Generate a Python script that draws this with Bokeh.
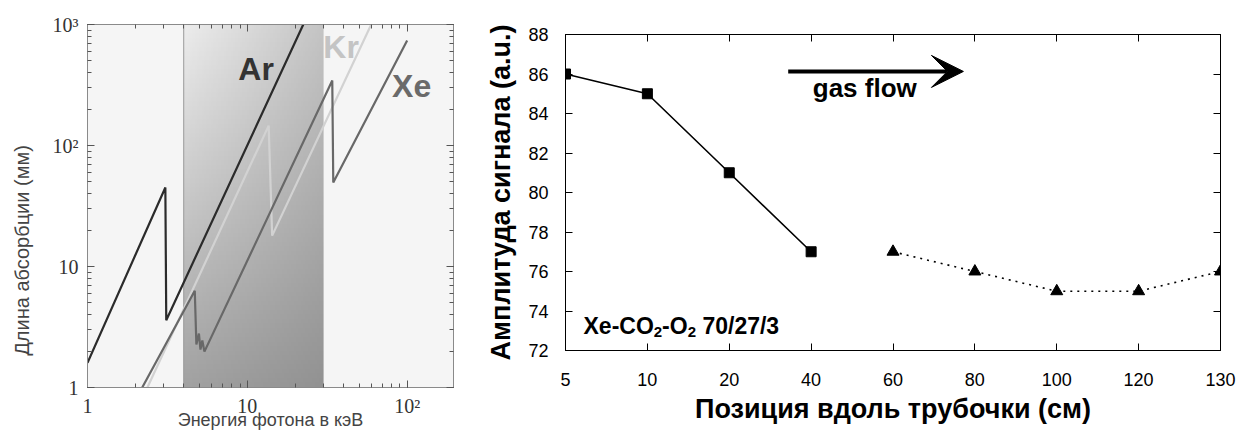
import numpy as np
from bokeh.plotting import figure
from bokeh.models import (Range1d, FixedTicker, LogAxis, LinearAxis, Label, Arrow,
                          VeeHead, LogTicker)
from bokeh.layouts import row, column
from bokeh.embed import file_html
from bokeh.resources import INLINE

# ---------------- data: left panel (absorption length vs photon energy) ----------
ar_energy = [1.0, 3.07, 3.11, 22.4]
ar_length = [1.6, 45.0, 3.6, 1000.0]
kr_energy = [2.37, 13.6, 14.3, 59.6]
kr_length = [1.0, 146.0, 18.0, 1000.0]
xe_energy = [2.2, 4.69, 4.80, 4.98, 5.09, 5.23, 5.39, 34.0, 34.5, 100.0]
xe_length = [1.0, 6.3, 2.27, 2.79, 2.06, 2.45, 1.98, 344.0, 49.5, 738.0]
band_energy = [4.0, 30.0]

# ---------------- data: right panel (signal amplitude vs position) ---------------
positions = ["5", "10", "20", "40", "60", "80", "100", "120", "130"]
square_idx = [0, 1, 2, 3]
square_amp = [86, 85, 81, 77]
tri_idx = [4, 5, 6, 7, 8]
tri_amp = [77, 76, 75, 75, 76]
y_ticks = [72, 74, 76, 78, 80, 82, 84, 86, 88]

SANS = "Liberation Sans"
SERIF = "Liberation Serif"
NBSP = "\u00a0"

# ================= left figure =================
p1 = figure(width=460, height=432, x_axis_type="log", y_axis_type="log",
            x_range=Range1d(1, 195), y_range=Range1d(1, 1000),
            output_backend="svg", toolbar_location=None,
            min_border_left=87, min_border_right=7, min_border_top=24, min_border_bottom=45)
p1.grid.visible = False
p1.background_fill_color = "#f5f5f5"
p1.border_fill_color = "white"
p1.outline_line_color = "#8a8a8a"

# gradient band
nx, ny = 60, 80
gx = np.linspace(0, 1, nx)[None, :]
gy = np.linspace(0, 1, ny)[:, None]  # 0 bottom, 1 top
tl, tr, bl, br = 236, 196, 162, 146
val = (bl * (1 - gx) * (1 - gy) + br * gx * (1 - gy) + tl * (1 - gx) * gy + tr * gx * gy)
val = val.astype(np.uint32)
img = (255 << 24) | (val << 16) | (val << 8) | val
p1.image_rgba(image=[img.astype(np.uint32)], x=band_energy[0], y=1, dw=band_energy[1] - band_energy[0], dh=999)
p1.line([band_energy[0], band_energy[0]], [1, 1000], line_color="#999999", line_width=1)

p1.line(ar_energy, ar_length, line_color="#2b2b2b", line_width=2.2)
p1.line(kr_energy, kr_length, line_color="#d2d2d2", line_width=2.2)
p1.line(xe_energy, xe_length, line_color="#686868", line_width=2.2)

labels_font = dict(text_font=SANS, text_font_style="bold", text_font_size="32px",
                   text_baseline="alphabetic", y_offset=12)
p1.add_layout(Label(x=8.78, y=344, text="Ar", text_color="#333333", **labels_font))
p1.add_layout(Label(x=29.9, y=523, text="Kr", text_color="#c4c4c4", **labels_font))
p1.add_layout(Label(x=80.5, y=249, text="Xe", text_color="#6a6a6a", **labels_font))

def style_log_axis(ax, show_labels):
    ax.ticker = LogTicker(num_minor_ticks=10)
    ax.major_tick_in = 7
    ax.major_tick_out = 0
    ax.minor_tick_in = 4
    ax.minor_tick_out = 0
    ax.axis_line_color = "#8a8a8a"
    ax.major_tick_line_color = "#555555"
    ax.minor_tick_line_color = "#555555"
    if show_labels:
        ax.major_label_text_font = SERIF
        ax.major_label_text_font_size = "20px"
        ax.major_label_text_color = "#333333"
        ax.major_label_standoff = 9
        ax.major_label_overrides = {1: "1", 10: "10", 100: "10²", 1000: "10³"}
        ax.axis_label_text_font = SANS
        ax.axis_label_text_font_style = "normal"
        ax.axis_label_text_color = "#444444"
    else:
        ax.major_label_text_font_size = "1px"
        ax.major_label_text_alpha = 0
        ax.major_label_standoff = 0

style_log_axis(p1.xaxis[0], True)
p1.xaxis[0].major_label_standoff = 7
p1.xaxis[0].axis_label = "Энергия фотона в кэВ"
p1.xaxis[0].axis_label_text_font_size = "18px"
p1.xaxis[0].axis_label_standoff = -10
style_log_axis(p1.yaxis[0], True)
p1.yaxis[0].axis_label = "Длина абсорбции (мм)" + NBSP * 16
p1.yaxis[0].axis_label_text_font_size = "20px"
p1.yaxis[0].axis_label_standoff = 17
top1 = LogAxis()
right1 = LogAxis()
style_log_axis(top1, False)
style_log_axis(right1, False)
p1.add_layout(top1, "above")
p1.add_layout(right1, "right")

# ================= right figure =================
p2 = figure(width=781, height=432, x_range=Range1d(0, len(positions) - 1), y_range=Range1d(72, 88),
            output_backend="svg", toolbar_location=None,
            min_border_left=105, min_border_right=21, min_border_top=34, min_border_bottom=82)
p2.grid.visible = False
p2.outline_line_color = "black"

p2.line(square_idx, square_amp, line_color="black", line_width=1.6)
p2.scatter(square_idx, square_amp, marker="square", size=10, fill_color="black", line_color="black")
p2.line(tri_idx, tri_amp, line_color="black", line_width=1.6, line_dash="2 5")
p2.scatter(tri_idx, tri_amp, marker="triangle", size=12, fill_color="black", line_color="black")

def style_lin_axis(ax, ticks, show_labels, overrides=None):
    ax.ticker = FixedTicker(ticks=ticks)
    ax.major_tick_in = 7
    ax.major_tick_out = 0
    ax.minor_tick_in = 0
    ax.minor_tick_out = 0
    ax.axis_line_color = "black"
    ax.major_tick_line_color = "black"
    if show_labels:
        ax.major_label_text_font = SANS
        ax.major_label_text_font_size = "18px"
        ax.major_label_text_color = "black"
        ax.axis_label_text_font = SANS
        ax.axis_label_text_font_style = "bold"
        ax.axis_label_text_font_size = "27px"
        ax.axis_label_text_color = "black"
        if overrides:
            ax.major_label_overrides = overrides
    else:
        ax.major_label_text_font_size = "1px"
        ax.major_label_text_alpha = 0
        ax.major_label_standoff = 0

x_ticks = list(range(len(positions)))
style_lin_axis(p2.xaxis[0], x_ticks, True, {i: s for i, s in enumerate(positions)})
p2.xaxis[0].major_label_standoff = 22
p2.xaxis[0].axis_label = "Позиция вдоль трубочки (см)"
p2.xaxis[0].axis_label_standoff = 5
style_lin_axis(p2.yaxis[0], y_ticks, True)
p2.yaxis[0].major_label_standoff = 17
p2.yaxis[0].axis_label = "Амплитуда сигнала (a.u.)"
p2.yaxis[0].axis_label_standoff = 9
top2 = LinearAxis()
right2 = LinearAxis()
style_lin_axis(top2, x_ticks, False)
style_lin_axis(right2, y_ticks, False)
p2.add_layout(top2, "above")
p2.add_layout(right2, "right")

p2.add_layout(Label(x=3.02, y=84.86, y_offset=9, text="gas flow", text_font=SANS,
                    text_font_style="bold", text_font_size="26px", text_color="black",
                    text_baseline="alphabetic"))
p2.add_layout(Arrow(x_start=2.72, y_start=86.13, x_end=4.86, y_end=86.13, line_width=4,
                    line_color="black",
                    end=VeeHead(size=32, fill_color="black", line_color="black")))

# composition label with subscripts
comp_parts = [("Xe-CO", "23px", 0, 0), ("2", "15px", 70.3, -6), ("-O", "23px", 78.6, 0),
              ("2", "15px", 104.2, -6), ("70/27/3", "23px", 118.9, 0)]
for txt, fs, dx, dy in comp_parts:
    p2.add_layout(Label(x=0.22, y=73.0, x_offset=dx, y_offset=dy + 5, text=txt, text_font=SANS,
                        text_font_style="bold", text_font_size=fs, text_color="black",
                        text_baseline="alphabetic"))

layout = row(column(p1), column(p2))
open("out.html", "w").write(file_html(layout, INLINE))
